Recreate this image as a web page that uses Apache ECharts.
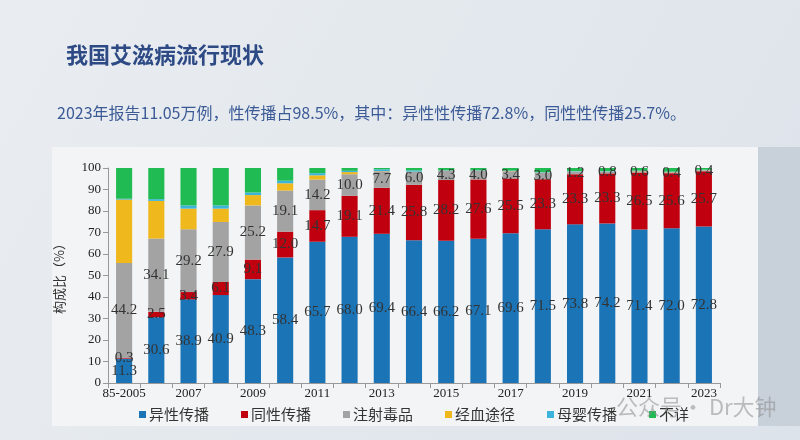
<!DOCTYPE html>
<html><head><meta charset="utf-8">
<script src="https://cdn.jsdelivr.net/npm/echarts@6/dist/echarts.min.js"></script>
<style>html,body{margin:0;padding:0;}#c{width:800px;height:440px;}</style>
</head><body><div id="c"></div>
<script>
const categories = ['85-2005','2006','2007','2008','2009','2010','2011','2012','2013','2014','2015','2016','2017','2018','2019','2020','2021','2022','2023'];
const hetero = [11.3,30.6,38.9,40.9,48.3,58.4,65.7,68.0,69.4,66.4,66.2,67.1,69.6,71.5,73.8,74.2,71.4,72.0,72.8];
const homo = [0.3,2.5,3.4,6.1,9.1,12.0,14.7,19.1,21.4,25.8,28.2,27.6,25.5,23.3,23.3,23.3,26.5,25.6,25.7];
const idu = [44.2,34.1,29.2,27.9,25.2,19.1,14.2,10.0,7.7,6.0,4.3,4.0,3.4,3.0,1.2,0.8,0.6,0.4,0.4];
const blood = [29.5,17.5,9.6,6.2,4.8,3.4,2.0,1.0,0.1,0.1,0.1,0.1,0.1,0.1,0.1,0.1,0.1,0.1,0.1];
const mtct = [0.4,0.8,1.5,1.5,1.2,1.2,1.0,0.6,0.8,0.6,0.2,0.2,0.2,0.2,0.2,0.2,0.2,0.2,0.2];
const unknown = [14.3,14.5,17.4,17.4,11.4,5.9,2.4,1.3,0.6,1.1,1.0,1.0,1.2,1.9,1.4,1.4,1.2,1.7,0.8];
const seriesNames = ['异性传播','同性传播','注射毒品','经血途径','母婴传播','不详'];
const yTicks = [0,10,20,30,40,50,60,70,80,90,100];

const colors = ['#1b74b6','#c0000f','#a3a3a3','#efb81d','#3bb4dc','#20bb52'];
const serif = '"Liberation Serif","DejaVu Serif",serif';
const cjk = '"Noto Sans CJK SC","Noto Sans",sans-serif';
const dataSets = [hetero, homo, idu, blood, mtct, unknown];

const chart = echarts.init(document.getElementById('c'));
chart.setOption({
  animation: false,
  backgroundColor: '#e3e8ee',
  graphic: [
    {type:'rect', shape:{x:0,y:0,width:800,height:440}, style:{fill:new echarts.graphic.LinearGradient(0,0,1,1,[{offset:0,color:'#e9edf1'},{offset:1,color:'#dde3ea'}])}, z:-10},
    {type:'rect', shape:{x:52,y:147,width:706,height:279}, style:{fill:'#f3f4f5'}, z:-5},
    {type:'rect', shape:{x:758,y:147,width:42,height:279}, style:{fill:'#c8d0d9'}, z:-5},
    {type:'text', left:66, top:44, style:{text:'我国艾滋病流行现状', font:'bold 22px "Noto Sans CJK SC"', fill:'#2d4a85'}},
    {type:'text', left:57, top:105, style:{text:'2023年报告11.05万例，性传播占98.5%，其中：异性性传播72.8%，同性性传播25.7%。', font:'16px "Noto Sans CJK SC"', fill:'#3b5a96'}},
    {type:'text', left:616, top:396, style:{text:'公众号· Dr大钟', font:'22px "Noto Sans CJK SC"', fill:'rgba(140,140,140,0.55)'}, z:100}
  ],
  grid: {left:108, right:80, top:168, bottom:57},
  legend: {
    data: seriesNames, left:134, top:402, itemWidth:7, itemHeight:7, itemGap:32, icon:'rect',
    textStyle:{fontFamily:cjk, fontSize:15, color:'#333', padding:[0,0,0,-2]}
  },
  xAxis: {
    type:'category', data:categories,
    axisLine:{lineStyle:{color:'#999'}},
    axisTick:{show:true, alignWithLabel:false, interval:0, lineStyle:{color:'#999'}},
    axisLabel:{interval:1, fontFamily:serif, fontSize:13, color:'#222', margin:4}
  },
  yAxis: {
    type:'value', min:0, max:100, interval:10,
    name:'构成比（%）', nameLocation:'middle', nameGap:42, nameRotate:90,
    nameTextStyle:{fontFamily:cjk, fontSize:13, color:'#333'},
    splitLine:{show:false},
    axisLine:{show:true, lineStyle:{color:'#999'}},
    axisTick:{show:true, lineStyle:{color:'#999'}},
    axisLabel:{fontFamily:serif, fontSize:13, color:'#222', margin:7,
      formatter: v => yTicks.includes(v) ? String(v) : ''}
  },
  series: dataSets.map((d,i)=>({
    name: seriesNames[i], type:'bar', stack:'total', barWidth:'50%',
    itemStyle:{color:colors[i]},
    data:d,
    label: i<3 ? {show:true, position:'inside', fontFamily:serif, fontSize:15, color:'#333',
      formatter: p => p.value.toFixed(1)} : {show:false}
  }))
});
</script></body></html>
